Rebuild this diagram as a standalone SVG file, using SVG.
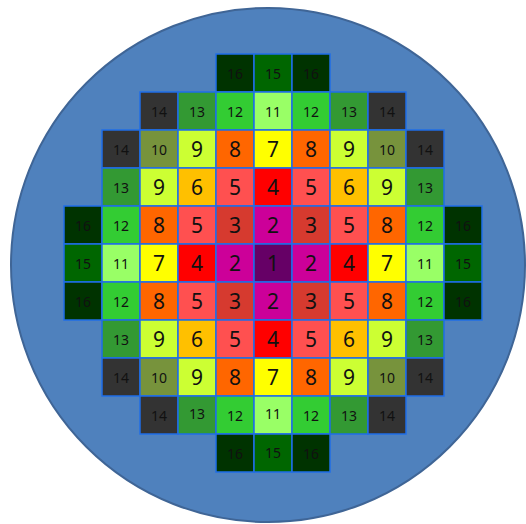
<svg xmlns="http://www.w3.org/2000/svg" width="526" height="524" viewBox="0 0 526 524">
<style>
.c{stroke:#1f6ee8;stroke-width:1.5}
.b{font-family:"Noto Sans","Open Sans",sans-serif;font-size:21px;fill:#111;text-anchor:middle;dominant-baseline:central}
.s{font-family:"Noto Sans","Open Sans",sans-serif;font-size:14px;fill:#111;text-anchor:middle;dominant-baseline:central}
.v1{fill:#660066}.v2{fill:#cc0099}.v3{fill:#d63a2f}.v4{fill:#ff0000}.v5{fill:#ff5050}.v6{fill:#ffc000}.v7{fill:#ffff00}.v8{fill:#ff6600}.v9{fill:#ccff33}.v10{fill:#77933c}.v11{fill:#99ff66}.v12{fill:#33cc33}.v13{fill:#339933}.v14{fill:#333333}.v15{fill:#006600}.v16{fill:#003300}
</style>
<circle id="vessel" cx="268" cy="265" r="257" fill="#4f81bd" stroke="#3f6596" stroke-width="2"/>
<g id="core">
<g id="r0">
<rect class="c v16" x="216" y="54" width="38" height="38"/><text class="s" x="235" y="73">16</text>
<rect class="c v15" x="254" y="54" width="38" height="38"/><text class="s" x="273" y="73">15</text>
<rect class="c v16" x="292" y="54" width="38" height="38"/><text class="s" x="311" y="73">16</text>
</g>
<g id="r1">
<rect class="c v14" x="140" y="92" width="38" height="38"/><text class="s" x="159" y="111">14</text>
<rect class="c v13" x="178" y="92" width="38" height="38"/><text class="s" x="197" y="111">13</text>
<rect class="c v12" x="216" y="92" width="38" height="38"/><text class="s" x="235" y="111">12</text>
<rect class="c v11" x="254" y="92" width="38" height="38"/><text class="s" x="273" y="111">11</text>
<rect class="c v12" x="292" y="92" width="38" height="38"/><text class="s" x="311" y="111">12</text>
<rect class="c v13" x="330" y="92" width="38" height="38"/><text class="s" x="349" y="111">13</text>
<rect class="c v14" x="368" y="92" width="38" height="38"/><text class="s" x="387" y="111">14</text>
</g>
<g id="r2">
<rect class="c v14" x="102" y="130" width="38" height="38"/><text class="s" x="121" y="149">14</text>
<rect class="c v10" x="140" y="130" width="38" height="38"/><text class="s" x="159" y="149">10</text>
<rect class="c v9" x="178" y="130" width="38" height="38"/><text class="b" x="197" y="149">9</text>
<rect class="c v8" x="216" y="130" width="38" height="38"/><text class="b" x="235" y="149">8</text>
<rect class="c v7" x="254" y="130" width="38" height="38"/><text class="b" x="273" y="149">7</text>
<rect class="c v8" x="292" y="130" width="38" height="38"/><text class="b" x="311" y="149">8</text>
<rect class="c v9" x="330" y="130" width="38" height="38"/><text class="b" x="349" y="149">9</text>
<rect class="c v10" x="368" y="130" width="38" height="38"/><text class="s" x="387" y="149">10</text>
<rect class="c v14" x="406" y="130" width="38" height="38"/><text class="s" x="425" y="149">14</text>
</g>
<g id="r3">
<rect class="c v13" x="102" y="168" width="38" height="38"/><text class="s" x="121" y="187">13</text>
<rect class="c v9" x="140" y="168" width="38" height="38"/><text class="b" x="159" y="187">9</text>
<rect class="c v6" x="178" y="168" width="38" height="38"/><text class="b" x="197" y="187">6</text>
<rect class="c v5" x="216" y="168" width="38" height="38"/><text class="b" x="235" y="187">5</text>
<rect class="c v4" x="254" y="168" width="38" height="38"/><text class="b" x="273" y="187">4</text>
<rect class="c v5" x="292" y="168" width="38" height="38"/><text class="b" x="311" y="187">5</text>
<rect class="c v6" x="330" y="168" width="38" height="38"/><text class="b" x="349" y="187">6</text>
<rect class="c v9" x="368" y="168" width="38" height="38"/><text class="b" x="387" y="187">9</text>
<rect class="c v13" x="406" y="168" width="38" height="38"/><text class="s" x="425" y="187">13</text>
</g>
<g id="r4">
<rect class="c v16" x="64" y="206" width="38" height="38"/><text class="s" x="83" y="225">16</text>
<rect class="c v12" x="102" y="206" width="38" height="38"/><text class="s" x="121" y="225">12</text>
<rect class="c v8" x="140" y="206" width="38" height="38"/><text class="b" x="159" y="225">8</text>
<rect class="c v5" x="178" y="206" width="38" height="38"/><text class="b" x="197" y="225">5</text>
<rect class="c v3" x="216" y="206" width="38" height="38"/><text class="b" x="235" y="225">3</text>
<rect class="c v2" x="254" y="206" width="38" height="38"/><text class="b" x="273" y="225">2</text>
<rect class="c v3" x="292" y="206" width="38" height="38"/><text class="b" x="311" y="225">3</text>
<rect class="c v5" x="330" y="206" width="38" height="38"/><text class="b" x="349" y="225">5</text>
<rect class="c v8" x="368" y="206" width="38" height="38"/><text class="b" x="387" y="225">8</text>
<rect class="c v12" x="406" y="206" width="38" height="38"/><text class="s" x="425" y="225">12</text>
<rect class="c v16" x="444" y="206" width="38" height="38"/><text class="s" x="463" y="225">16</text>
</g>
<g id="r5">
<rect class="c v15" x="64" y="244" width="38" height="38"/><text class="s" x="83" y="263">15</text>
<rect class="c v11" x="102" y="244" width="38" height="38"/><text class="s" x="121" y="263">11</text>
<rect class="c v7" x="140" y="244" width="38" height="38"/><text class="b" x="159" y="263">7</text>
<rect class="c v4" x="178" y="244" width="38" height="38"/><text class="b" x="197" y="263">4</text>
<rect class="c v2" x="216" y="244" width="38" height="38"/><text class="b" x="235" y="263">2</text>
<rect class="c v1" x="254" y="244" width="38" height="38"/><text class="b" x="273" y="263">1</text>
<rect class="c v2" x="292" y="244" width="38" height="38"/><text class="b" x="311" y="263">2</text>
<rect class="c v4" x="330" y="244" width="38" height="38"/><text class="b" x="349" y="263">4</text>
<rect class="c v7" x="368" y="244" width="38" height="38"/><text class="b" x="387" y="263">7</text>
<rect class="c v11" x="406" y="244" width="38" height="38"/><text class="s" x="425" y="263">11</text>
<rect class="c v15" x="444" y="244" width="38" height="38"/><text class="s" x="463" y="263">15</text>
</g>
<g id="r6">
<rect class="c v16" x="64" y="282" width="38" height="38"/><text class="s" x="83" y="301">16</text>
<rect class="c v12" x="102" y="282" width="38" height="38"/><text class="s" x="121" y="301">12</text>
<rect class="c v8" x="140" y="282" width="38" height="38"/><text class="b" x="159" y="301">8</text>
<rect class="c v5" x="178" y="282" width="38" height="38"/><text class="b" x="197" y="301">5</text>
<rect class="c v3" x="216" y="282" width="38" height="38"/><text class="b" x="235" y="301">3</text>
<rect class="c v2" x="254" y="282" width="38" height="38"/><text class="b" x="273" y="301">2</text>
<rect class="c v3" x="292" y="282" width="38" height="38"/><text class="b" x="311" y="301">3</text>
<rect class="c v5" x="330" y="282" width="38" height="38"/><text class="b" x="349" y="301">5</text>
<rect class="c v8" x="368" y="282" width="38" height="38"/><text class="b" x="387" y="301">8</text>
<rect class="c v12" x="406" y="282" width="38" height="38"/><text class="s" x="425" y="301">12</text>
<rect class="c v16" x="444" y="282" width="38" height="38"/><text class="s" x="463" y="301">16</text>
</g>
<g id="r7">
<rect class="c v13" x="102" y="320" width="38" height="38"/><text class="s" x="121" y="339">13</text>
<rect class="c v9" x="140" y="320" width="38" height="38"/><text class="b" x="159" y="339">9</text>
<rect class="c v6" x="178" y="320" width="38" height="38"/><text class="b" x="197" y="339">6</text>
<rect class="c v5" x="216" y="320" width="38" height="38"/><text class="b" x="235" y="339">5</text>
<rect class="c v4" x="254" y="320" width="38" height="38"/><text class="b" x="273" y="339">4</text>
<rect class="c v5" x="292" y="320" width="38" height="38"/><text class="b" x="311" y="339">5</text>
<rect class="c v6" x="330" y="320" width="38" height="38"/><text class="b" x="349" y="339">6</text>
<rect class="c v9" x="368" y="320" width="38" height="38"/><text class="b" x="387" y="339">9</text>
<rect class="c v13" x="406" y="320" width="38" height="38"/><text class="s" x="425" y="339">13</text>
</g>
<g id="r8">
<rect class="c v14" x="102" y="358" width="38" height="38"/><text class="s" x="121" y="377">14</text>
<rect class="c v10" x="140" y="358" width="38" height="38"/><text class="s" x="159" y="377">10</text>
<rect class="c v9" x="178" y="358" width="38" height="38"/><text class="b" x="197" y="377">9</text>
<rect class="c v8" x="216" y="358" width="38" height="38"/><text class="b" x="235" y="377">8</text>
<rect class="c v7" x="254" y="358" width="38" height="38"/><text class="b" x="273" y="377">7</text>
<rect class="c v8" x="292" y="358" width="38" height="38"/><text class="b" x="311" y="377">8</text>
<rect class="c v9" x="330" y="358" width="38" height="38"/><text class="b" x="349" y="377">9</text>
<rect class="c v10" x="368" y="358" width="38" height="38"/><text class="s" x="387" y="377">10</text>
<rect class="c v14" x="406" y="358" width="38" height="38"/><text class="s" x="425" y="377">14</text>
</g>
<g id="r9">
<rect class="c v14" x="140" y="396" width="38" height="38"/><text class="s" x="159" y="415">14</text>
<rect class="c v13" x="178" y="396" width="38" height="38"/><text class="s" x="197" y="413">13</text>
<rect class="c v12" x="216" y="396" width="38" height="38"/><text class="s" x="235" y="415">12</text>
<rect class="c v11" x="254" y="396" width="38" height="38"/><text class="s" x="273" y="413">11</text>
<rect class="c v12" x="292" y="396" width="38" height="38"/><text class="s" x="311" y="415">12</text>
<rect class="c v13" x="330" y="396" width="38" height="38"/><text class="s" x="349" y="415">13</text>
<rect class="c v14" x="368" y="396" width="38" height="38"/><text class="s" x="387" y="415">14</text>
</g>
<g id="r10">
<rect class="c v16" x="216" y="434" width="38" height="38"/><text class="s" x="235" y="453">16</text>
<rect class="c v15" x="254" y="434" width="38" height="38"/><text class="s" x="273" y="452">15</text>
<rect class="c v16" x="292" y="434" width="38" height="38"/><text class="s" x="311" y="453">16</text>
</g>
</g>
</svg>
